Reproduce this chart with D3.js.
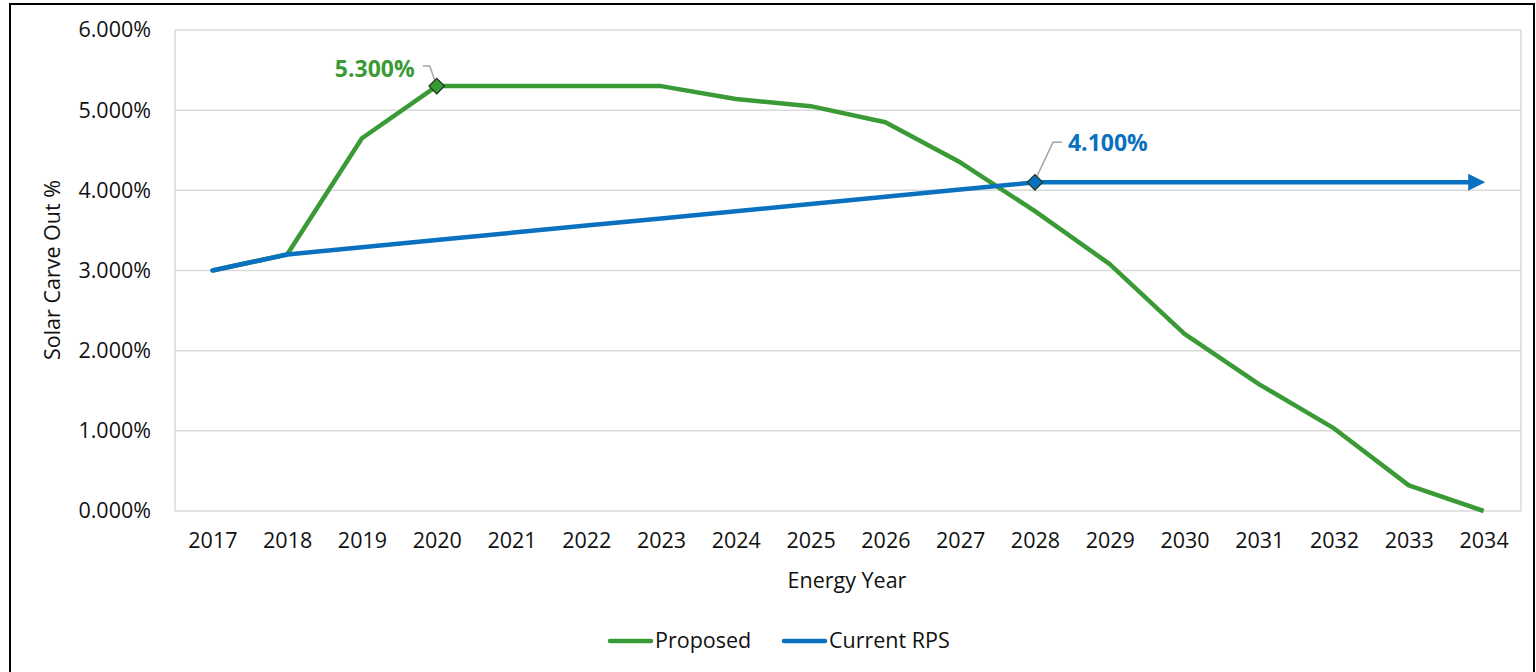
<!DOCTYPE html>
<html><head><meta charset="utf-8">
<script src="https://cdn.jsdelivr.net/npm/d3@7"></script>
<style>body{margin:0;background:#fff;} svg{display:block;} text{font-family:"Open Sans",sans-serif;}</style>
</head><body>
<svg id="c" width="1536" height="672"></svg>
<script>
const years = ["2017","2018","2019","2020","2021","2022","2023","2024","2025","2026","2027","2028","2029","2030","2031","2032","2033","2034"];
const proposed = [3.0,3.2,4.65,5.3,5.3,5.3,5.3,5.14,5.05,4.85,4.35,3.74,3.08,2.21,1.58,1.03,0.32,0.0];
const currentRPS = [3.0,3.2,3.29,3.38,3.47,3.56,3.65,3.74,3.83,3.92,4.01,4.1,4.1,4.1,4.1,4.1,4.1,4.1];
const yTicks = [0,1,2,3,4,5,6];
const seriesNames = ["Proposed","Current RPS"];
const colors = ["#3a9a35","#0a70c0"];

const svg = d3.select("#c");
svg.append("rect").attr("x",10).attr("y",4).attr("width",1524).attr("height",680)
  .attr("fill","none").attr("stroke","#000").attr("stroke-width",2);

const L=175, R=1521, T=30, B=511;
const x = d3.scalePoint().domain(years).range([L,R]).padding(0.5);
const y = d3.scaleLinear().domain([0,6]).range([B,T]);

// gridlines
svg.append("g").selectAll("line").data(yTicks).join("line")
  .attr("x1",L).attr("x2",R).attr("y1",d=>y(d)).attr("y2",d=>y(d))
  .attr("stroke","#d9d9d9").attr("stroke-width",1.5);
svg.append("line").attr("x1",L).attr("x2",L).attr("y1",T).attr("y2",B).attr("stroke","#d9d9d9").attr("stroke-width",1.5);
svg.append("line").attr("x1",R).attr("x2",R).attr("y1",T).attr("y2",B).attr("stroke","#d9d9d9").attr("stroke-width",1.5);

// axes
const yAxis = d3.axisLeft(y).tickValues(yTicks).tickFormat(d=>d3.format(".3f")(d)+"%").tickSize(0).tickPadding(24);
const gy = svg.append("g").attr("transform",`translate(${L},0)`).call(yAxis);
gy.select(".domain").remove();
gy.selectAll("text").attr("font-size",21.5).attr("fill","#111").attr("font-family","Open Sans");

const xAxis = d3.axisBottom(x).tickSize(0).tickPadding(22);
const gx = svg.append("g").attr("transform",`translate(0,${B})`).call(xAxis);
gx.select(".domain").remove();
gx.selectAll("text").attr("font-size",21.5).attr("fill","#111").attr("font-family","Open Sans");

svg.append("text").attr("x",847).attr("y",588).attr("text-anchor","middle").attr("font-size",21.5).attr("fill","#111").text("Energy Year");
svg.append("text").attr("transform","translate(60,270) rotate(-90)").attr("text-anchor","middle").attr("font-size",21.5).attr("fill","#111").text("Solar Carve Out %");

const line = d3.line().x((d,i)=>x(years[i])).y(d=>y(d));

// arrow marker
const defs = svg.append("defs");
defs.append("marker").attr("id","arr").attr("viewBox","0 0 10 10").attr("refX",2).attr("refY",5)
  .attr("markerWidth",4).attr("markerHeight",3.8).attr("orient","auto").attr("markerUnits","strokeWidth")
  .append("path").attr("d","M0,0 L10,5 L0,10 Z").attr("fill",colors[1]);

svg.append("path").datum(proposed).attr("d",line).attr("fill","none").attr("stroke",colors[0]).attr("stroke-width",4.5).attr("stroke-linejoin","round");
svg.append("path").datum(currentRPS).attr("d",d3.line().x((d,i)=>i===currentRPS.length-1? x(years[i])-12 : x(years[i])).y(d=>y(d)))
  .attr("fill","none").attr("stroke",colors[1]).attr("stroke-width",4.5).attr("stroke-linejoin","round").attr("stroke-linecap","round")
  .attr("marker-end","url(#arr)");

// markers and labels
function diamond(cx,cy,fill){
  svg.append("rect").attr("x",cx-5.5).attr("y",cy-5.5).attr("width",11).attr("height",11)
    .attr("transform",`rotate(45,${cx},${cy})`).attr("fill",fill).attr("stroke","#1a3a1a").attr("stroke-width",1.2);
}
const pi = 3, ci = 11;
const px = x(years[pi]), py = y(proposed[pi]);
svg.append("path").attr("d",`M${px-14},${py-20} L${px-7},${py-20} L${px-2},${py-6}`).attr("fill","none").attr("stroke","#a6a6a6").attr("stroke-width",1.5);
diamond(px,py,colors[0]);
svg.append("text").attr("x",px-22).attr("y",py-9).attr("text-anchor","end").attr("font-size",23).attr("font-weight","bold").attr("fill",colors[0]).text(d3.format(".3f")(proposed[pi])+"%");

const cx = x(years[ci]), cy = y(currentRPS[ci]);
svg.append("path").attr("d",`M${cx+2},${cy-6} L${cx+18},${cy-40} L${cx+27},${cy-40}`).attr("fill","none").attr("stroke","#a6a6a6").attr("stroke-width",1.5);
diamond(cx,cy,colors[1]);
svg.append("text").attr("x",cx+33).attr("y",cy-31).attr("font-size",23).attr("font-weight","bold").attr("fill",colors[1]).text(d3.format(".3f")(currentRPS[ci])+"%");

// legend
const leg = [{n:seriesNames[0],c:colors[0],x:608},{n:seriesNames[1],c:colors[1],x:782}];
leg.forEach(l=>{
  svg.append("line").attr("x1",l.x+2).attr("x2",l.x+43).attr("y1",641).attr("y2",641).attr("stroke",l.c).attr("stroke-width",4.5).attr("stroke-linecap","round");
  svg.append("text").attr("x",l.x+47).attr("y",648).attr("font-size",21.5).attr("fill","#111").text(l.n);
});
</script>
</body></html>
